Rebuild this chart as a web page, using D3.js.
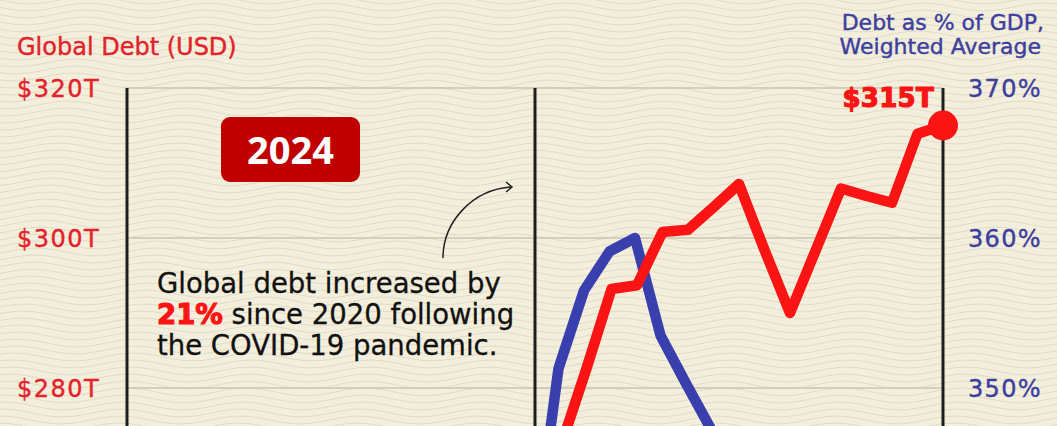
<!DOCTYPE html>
<meta charset="utf-8">

<head>
    <meta charset="utf-8">
    <script src="https://d3js.org/d3.v7.min.js"></script>
    <style>
        body { margin: 0; background: #f3efdc; }
        svg { display: block; }
        text { font-family: "DejaVu Sans", sans-serif; }
    </style>
</head>

<body>
    <svg width="1057" height="426"></svg>

    <script>

        // quarters from 2016 Q1 to 2024 Q1
        var quarters = [];
        for (var yr = 2016; yr <= 2024; yr++) {
            for (var q = 1; q <= 4; q++) {
                if (yr == 2024 && q > 1) break;
                quarters.push(yr + " Q" + q);
            }
        }

        // global debt, trillions USD (2020 Q1 onwards)
        var debtQuarters = ["2020 Q1", "2020 Q2", "2020 Q3", "2020 Q4", "2021 Q1", "2021 Q2", "2021 Q3", "2021 Q4",
            "2022 Q1", "2022 Q2", "2022 Q3", "2022 Q4", "2023 Q1", "2023 Q2", "2023 Q3", "2023 Q4", "2024 Q1"];
        var debtValues = [264, 272.1, 282.4, 293.2, 293.7, 300.8, 301.1, 304.1,
            307.2, 298.4, 290.0, 298.3, 306.6, 305.6, 304.7, 313.9, 315];

        // debt as % of GDP, weighted average
        var gdpQuarters = ["2020 Q1", "2020 Q2", "2020 Q3", "2020 Q4", "2021 Q1", "2021 Q2", "2021 Q3", "2021 Q4"];
        var gdpValues = [338.6, 351.3, 356.5, 359.1, 360.0, 353.5, 350.3, 347.2];

        var leftTicks = [280, 300, 320];
        var rightTicks = [350, 360, 370];
        var dividers = ["2016 Q1", "2020 Q1", "2024 Q1"];

        var red = "#fb1414", blue = "#3a3fae";

        var svg = d3.select("svg");

        svg.append("rect").attr("width", 1057).attr("height", 426).attr("fill", "#f3efdc");

        // wavy paper texture (decoration only)
        var wave = d3.line().curve(d3.curveBasis);
        var bg = svg.append("g").attr("fill", "none").attr("stroke", "#dfd9c3").attr("stroke-width", 0.9);
        for (var wy = -14; wy < 440; wy += 7) {
            var pts = [];
            for (var wx = -20; wx <= 1080; wx += 8) {
                pts.push([wx, wy + 4 * Math.sin(wx / 19 + wy / 90)]);
            }
            bg.append("path").attr("d", wave(pts));
        }

        var x = d3.scalePoint().domain(quarters).range([127, 943]);
        var yL = d3.scaleLinear().domain([280, 320]).range([388, 88]);
        var yR = d3.scaleLinear().domain([350, 370]).range([388, 88]);

        // gridlines
        svg.selectAll(".grid")
            .data(leftTicks)
            .enter().append("line")
            .attr("x1", x("2016 Q1")).attr("x2", x("2024 Q1"))
            .attr("y1", function (d) { return yL(d); })
            .attr("y2", function (d) { return yL(d); })
            .attr("stroke", "#c8c4b1")
            .attr("stroke-width", 1.5);

        // vertical year lines
        svg.selectAll(".div")
            .data(dividers)
            .enter().append("line")
            .attr("x1", function (d) { return x(d); })
            .attr("x2", function (d) { return x(d); })
            .attr("y1", yL(320))
            .attr("y2", 426)
            .attr("stroke", "#1e1e1e")
            .attr("stroke-width", 3);

        // left axis labels
        svg.selectAll(".lt")
            .data(leftTicks)
            .enter().append("text")
            .attr("x", 17)
            .attr("y", function (d) { return yL(d); })
            .attr("dy", "0.36em")
            .attr("fill", "#e3222b")
            .attr("stroke", "#e3222b")
            .attr("stroke-width", 0.4)
            .style("font-size", "24px")
            .style("letter-spacing", "1.5px")
            .text(function (d) { return "$" + d + "T"; });

        // right axis labels
        svg.selectAll(".rt")
            .data(rightTicks)
            .enter().append("text")
            .attr("x", 968)
            .attr("y", function (d) { return yR(d); })
            .attr("dy", "0.36em")
            .attr("fill", "#3c3f9f")
            .attr("stroke", "#3c3f9f")
            .attr("stroke-width", 0.4)
            .style("font-size", "24px")
            .style("letter-spacing", "1.3px")
            .text(function (d) { return d + "%"; });

        // axis titles
        svg.append("text")
            .attr("x", 17).attr("y", 55)
            .attr("fill", "#e3222b")
            .attr("stroke", "#e3222b")
            .attr("stroke-width", 0.4)
            .style("font-size", "24px")
            .text("Global Debt (USD)");

        var rt = svg.append("g")
            .attr("fill", "#3c3f9f")
            .attr("stroke", "#3c3f9f")
            .attr("stroke-width", 0.4)
            .attr("text-anchor", "end")
            .style("font-size", "22px");
        rt.append("text").attr("x", 1044).attr("y", 30).text("Debt as % of GDP,");
        rt.append("text").attr("x", 1041).attr("y", 54).text("Weighted Average");

        // lines
        var lineL = d3.line()
            .x(function (d) { return x(d[0]); })
            .y(function (d) { return yL(d[1]); });
        var lineR = d3.line()
            .x(function (d) { return x(d[0]) - 2; })
            .y(function (d) { return yR(d[1]); });

        svg.append("path")
            .datum(d3.zip(gdpQuarters, gdpValues))
            .attr("d", lineR)
            .attr("fill", "none")
            .attr("stroke", blue)
            .attr("stroke-width", 10.5)
            .attr("stroke-linejoin", "round");

        svg.append("path")
            .datum(d3.zip(debtQuarters, debtValues))
            .attr("d", lineL)
            .attr("fill", "none")
            .attr("stroke", red)
            .attr("stroke-width", 10.5)
            .attr("stroke-linejoin", "round");

        // end dot + label
        var last = debtQuarters.length - 1;
        svg.append("circle")
            .attr("cx", x(debtQuarters[last]))
            .attr("cy", yL(debtValues[last]))
            .attr("r", 15)
            .attr("fill", red);

        svg.append("text")
            .attr("x", 934).attr("y", 107)
            .attr("text-anchor", "end")
            .attr("fill", red)
            .attr("stroke", red)
            .attr("stroke-width", 1.2)
            .style("font-size", "26px")
            .style("font-weight", "bold")
            .style("letter-spacing", "0.3px")
            .text("$" + debtValues[last] + "T");

        // 2024 badge
        svg.append("rect")
            .attr("x", 221).attr("y", 117)
            .attr("width", 139).attr("height", 65)
            .attr("rx", 9)
            .attr("fill", "#c00000");
        svg.append("text")
            .attr("x", 290.5).attr("y", 164)
            .attr("text-anchor", "middle")
            .attr("fill", "#ffffff")
            .style("font-family", "'Open Sans', sans-serif")
            .style("font-size", "38px")
            .style("font-weight", "bold")
            .text("2024");

        // annotation
        var note = svg.append("text")
            .attr("fill", "#111111")
            .attr("stroke", "#111111")
            .attr("stroke-width", 0.3)
            .style("font-size", "27.5px");
        note.append("tspan").attr("x", 157).attr("y", 293).text("Global debt increased by");
        var l2 = note.append("tspan").attr("x", 157).attr("y", 324);
        l2.append("tspan").attr("fill", red).attr("stroke", red).attr("stroke-width", 1.2)
            .style("font-weight", "bold").text("21%");
        l2.append("tspan").text(" since 2020 following");
        note.append("tspan").attr("x", 157).attr("y", 355).text("the COVID-19 pandemic.");

        // arrow
        svg.append("path")
            .attr("d", "M443,258 C443,222 472,190 511,187")
            .attr("fill", "none")
            .attr("stroke", "#222")
            .attr("stroke-width", 1.5);
        svg.append("path")
            .attr("d", "M506,182 L512,187 L506,192")
            .attr("fill", "none")
            .attr("stroke", "#222")
            .attr("stroke-width", 1.5);

    </script>
</body>

</html>
